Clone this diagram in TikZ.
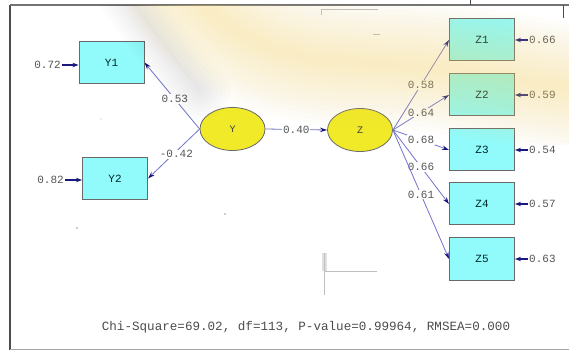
\documentclass[tikz,border=0pt]{standalone}
\usepackage{fontspec}
\newfontfamily\monof{Liberation Mono}
\usetikzlibrary{arrows.meta,shapes.geometric}
\definecolor{boxfill}{RGB}{145,250,250}
\definecolor{ellfill}{RGB}{240,234,40}
\definecolor{bordc}{RGB}{105,105,105}
\definecolor{linec}{RGB}{115,115,205}
\definecolor{arrowc}{RGB}{25,25,125}
\definecolor{txtc}{RGB}{85,85,85}
\definecolor{glowc}{RGB}{250,215,100}
\tikzset{
  obs/.style={draw=bordc, line width=1pt, fill=boxfill, minimum width=65pt, minimum height=42pt, inner sep=0pt, font=\monof\fontsize{11}{11}\selectfont, text=black!70!teal},
  lat/.style={ellipse, draw=bordc, line width=0.8pt, fill=ellfill, minimum width=65pt, minimum height=43pt, inner sep=0pt, font=\monof\fontsize{10}{10}\selectfont, text=black!75},
  num/.style={font=\monof\fontsize{11}{11}\selectfont, text=txtc, inner sep=1pt},
  lbl/.style={num, fill=white},
  patharr/.style={draw=linec, line width=0.8pt, -{Stealth[length=7pt,width=4.5pt,color=arrowc]}},
  errarr/.style={draw=arrowc, line width=1.3pt, -{Stealth[length=6pt,width=4.5pt,color=arrowc]}},
  straymark/.style={draw=black!25, line width=1pt}
}
\begin{document}
\begin{tikzpicture}[x=1pt,y=-1pt]
\useasboundingbox (0,0) rectangle (569,352);
\fill[white] (0,0) rectangle (569,352);
% frame
\draw[black!70, line width=1.5pt] (10,5) -- (10,350);
\draw[black!55, line width=1.2pt] (10,5) -- (569,5);
\draw[black!35, line width=1pt] (10,349.5) -- (569,349.5);
\draw[black!70, line width=0.8pt] (563,18) -- (563,5);
\draw[black!70, line width=0.8pt] (470,0) -- (470,5);
% stray marks
\draw[straymark] (321,15) -- (321,10) -- (378,10);
\draw[straymark] (373,35) -- (380,35);
\draw[straymark, line width=5pt, black!12] (324,253) -- (324,271);
\draw[straymark] (324,253) -- (324,295);
\draw[straymark] (324,271) -- (377,271);
\fill[black!40] (77,228) circle (0.8pt);
\fill[black!40] (225,214) circle (0.8pt);
\fill[black!30] (101,119) circle (0.6pt);
% latent variables
\node[lat] (Y) at (232.5,129) {Y};
\node[lat] (Z) at (360,130) {Z};
% observed
\node[obs] (Y1) at (111.5,62.5) {Y1};
\node[obs] (Y2) at (115,178.5) {Y2};
\node[obs] (Z1) at (482,40) {Z1};
\node[obs] (Z2) at (482,95) {Z2};
\node[obs] (Z3) at (482,150) {Z3};
\node[obs] (Z4) at (482,204) {Z4};
\node[obs] (Z5) at (482,259) {Z5};
% error terms
\node[num, anchor=east] (eY1) at (62,65) {0.72};
\node[num, anchor=east] (eY2) at (65,180) {0.82};
\node[num, anchor=west] (eZ1) at (528,40) {0.66};
\node[num, anchor=west] (eZ2) at (528,95) {0.59};
\node[num, anchor=west] (eZ3) at (528,150) {0.54};
\node[num, anchor=west] (eZ4) at (528,204) {0.57};
\node[num, anchor=west] (eZ5) at (528,259) {0.63};
\draw[errarr] (eY1) -- (eY1 -| Y1.west);
\draw[errarr] (eY2) -- (eY2 -| Y2.west);
\draw[errarr] (eZ1) -- (Z1.east);
\draw[errarr] (eZ2) -- (Z2.east);
\draw[errarr] (eZ3) -- (Z3.east);
\draw[errarr] (eZ4) -- (Z4.east);
\draw[errarr] (eZ5) -- (Z5.east);
% paths
\draw[patharr] (Y.west) -- node[lbl, pos=0.45] {0.53} (Y1.east);
\draw[patharr] (Y.west) -- node[lbl, pos=0.45, yshift=-3pt] {-0.42} (Y2.east);
\draw[patharr] (Y.east) -- node[lbl] {0.40} (Z.west);
\draw[patharr] (Z.east) -- node[lbl] {0.58} (Z1.west);
\draw[patharr] (Z.east) -- node[lbl] {0.64} (Z2.west);
\draw[patharr] (Z.east) -- node[lbl] {0.68} (Z3.west);
\draw[patharr] (Z.east) -- node[lbl] {0.66} (Z4.west);
\draw[patharr] (Z.east) -- node[lbl] {0.61} (Z5.west);
% fit statistics
\node[num, font=\monof\fontsize{12.6}{12.6}\selectfont, text=black!70] (fit) at (306,327) {Chi-Square=69.02, df=113, P-value=0.99964, RMSEA=0.000};
% glow overlay
\begin{scope}
\clip (83,6) rectangle (569,145);
\foreach \w in {60,52,...,4}{
  \draw[black, opacity=0.012, line width=\w pt, line cap=round] (125,-10) .. controls (150,25) and (175,60) .. (200,90);
}
\foreach \w in {130,120,...,10}{
  \draw[glowc, opacity=0.03, line width=\w pt, line cap=round] (190,-10) .. controls (235,45) and (290,62) .. (380,64) .. controls (460,66) and (520,82) .. (600,92);
}
\end{scope}
\end{tikzpicture}
\end{document}
